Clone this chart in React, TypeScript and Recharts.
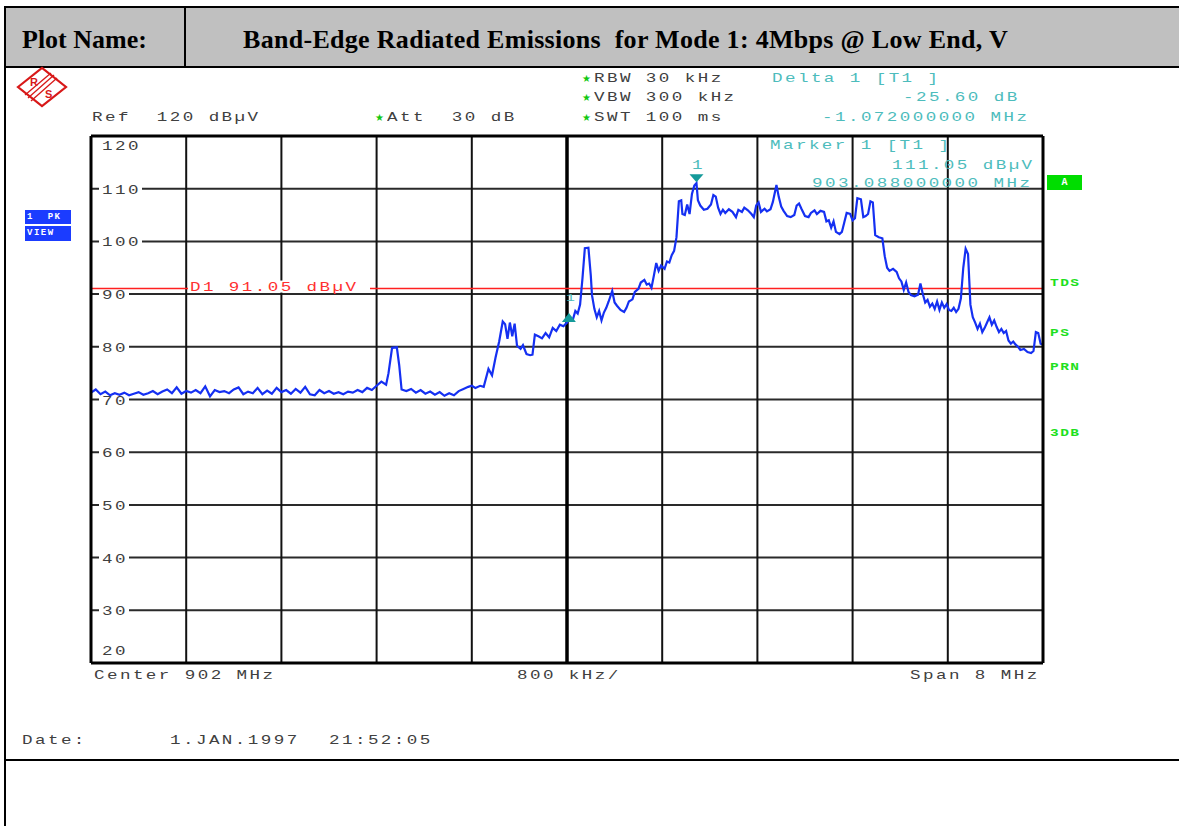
import React from 'react';
import { LineChart, Line, XAxis, YAxis, ReferenceLine, ReferenceDot } from 'recharts';

// ---------- data ----------
const X_DOMAIN: [number, number] = [898, 906];
const Y_DOMAIN: [number, number] = [20, 120];
const xGridMHz = [898.8, 899.6, 900.4, 901.2, 902.8, 903.6, 904.4, 905.2];
const xCenterMHz = 902;
const yGridDbuv = [30, 40, 50, 60, 70, 80, 90, 100, 110];
const displayLineDbuv = 91.05;
const marker1 = { f: 903.088, v: 111.05 };
const delta1 = { f: 902.016, v: 85.45 };

// [frequency MHz, level dBµV]
const tracePoints: [number, number][] = [
  [898.00, 71.3], [898.04, 71.9], [898.08, 71.0], [898.12, 71.5], [898.16, 70.8], [898.20, 71.2],
  [898.24, 70.9], [898.28, 71.3], [898.32, 70.8], [898.36, 71.1], [898.40, 71.4], [898.44, 70.9],
  [898.48, 71.2], [898.52, 71.6], [898.56, 71.0], [898.60, 71.5], [898.64, 71.9], [898.68, 71.2],
  [898.72, 72.3], [898.76, 71.1], [898.80, 71.6], [898.84, 71.3], [898.88, 71.8], [898.92, 71.2],
  [898.96, 72.5], [899.00, 70.6], [899.04, 71.8], [899.08, 71.4], [899.12, 71.6], [899.16, 71.2],
  [899.20, 71.9], [899.24, 72.3], [899.28, 71.0], [899.32, 71.5], [899.36, 71.2], [899.40, 72.2],
  [899.44, 71.0], [899.48, 71.7], [899.52, 71.1], [899.56, 72.2], [899.60, 71.4], [899.64, 71.8],
  [899.68, 71.1], [899.72, 72.0], [899.76, 71.3], [899.80, 72.4], [899.84, 71.0], [899.88, 70.8],
  [899.92, 71.8], [899.96, 71.2], [900.00, 71.6], [900.04, 71.1], [900.08, 71.4], [900.12, 71.0],
  [900.16, 71.5], [900.20, 71.3], [900.24, 71.8], [900.28, 71.4], [900.32, 72.2], [900.36, 71.8],
  [900.40, 72.6], [900.44, 73.4], [900.48, 72.8], [900.50, 75.0], [900.53, 79.8], [900.57, 79.9],
  [900.59, 76.5], [900.61, 71.9], [900.65, 71.6], [900.69, 72.0], [900.73, 71.3], [900.77, 71.8],
  [900.81, 71.1], [900.85, 71.5], [900.89, 70.9], [900.93, 71.4], [900.97, 70.7], [901.01, 71.2],
  [901.05, 70.8], [901.09, 71.6], [901.13, 72.0], [901.17, 72.4], [901.20, 72.6], [901.23, 72.2],
  [901.27, 72.6], [901.30, 72.4], [901.34, 75.8], [901.37, 74.6], [901.40, 78.0], [901.43, 81.0],
  [901.46, 84.8], [901.48, 84.3], [901.50, 81.5], [901.52, 84.6], [901.54, 82.0], [901.56, 84.4],
  [901.58, 80.2], [901.61, 79.6], [901.63, 80.3], [901.66, 78.6], [901.69, 78.4], [901.71, 78.5],
  [901.73, 82.3], [901.76, 82.0], [901.79, 81.6], [901.82, 82.6], [901.85, 81.8], [901.88, 83.6],
  [901.91, 83.0], [901.94, 84.2], [901.97, 83.9], [902.00, 84.6], [902.02, 85.45], [902.05, 85.2],
  [902.07, 86.8], [902.09, 86.3], [902.11, 88.0], [902.13, 93.0], [902.15, 98.7], [902.18, 98.8],
  [902.20, 93.5], [902.21, 89.8], [902.23, 87.2], [902.25, 85.6], [902.27, 86.8], [902.29, 85.0],
  [902.31, 86.5], [902.33, 87.4], [902.35, 88.6], [902.38, 90.6], [902.40, 88.4], [902.42, 87.8],
  [902.45, 87.0], [902.48, 86.6], [902.50, 87.4], [902.52, 88.6], [902.55, 89.0], [902.57, 90.4],
  [902.60, 91.0], [902.62, 92.2], [902.65, 92.7], [902.67, 91.8], [902.69, 92.0], [902.71, 91.2],
  [902.73, 93.5], [902.75, 95.9], [902.77, 94.4], [902.79, 95.4], [902.82, 94.8], [902.84, 96.2],
  [902.86, 96.0], [902.88, 97.4], [902.90, 98.2], [902.92, 100.8], [902.94, 107.6], [902.96, 107.8],
  [902.97, 105.2], [902.99, 105.0], [903.01, 107.0], [903.03, 105.2], [903.05, 109.0], [903.07, 110.6],
  [903.088, 111.05], [903.10, 107.8], [903.12, 106.8], [903.15, 106.0], [903.18, 106.2], [903.21, 107.0],
  [903.23, 108.8], [903.25, 108.5], [903.27, 106.4], [903.29, 105.2], [903.31, 106.0], [903.33, 105.4],
  [903.36, 106.1], [903.39, 105.6], [903.42, 104.6], [903.44, 106.0], [903.47, 105.6], [903.49, 106.4],
  [903.52, 105.9], [903.55, 105.2], [903.57, 104.6], [903.59, 106.8], [903.61, 107.4], [903.63, 105.6],
  [903.66, 106.2], [903.68, 105.7], [903.71, 106.1], [903.73, 107.5], [903.76, 110.7], [903.78, 108.4],
  [903.80, 106.6], [903.82, 105.8], [903.85, 104.8], [903.88, 104.6], [903.91, 105.0], [903.93, 106.8],
  [903.95, 107.2], [903.97, 106.2], [904.00, 104.8], [904.03, 104.6], [904.05, 105.4], [904.08, 105.9],
  [904.10, 105.2], [904.13, 105.8], [904.16, 105.6], [904.18, 103.8], [904.20, 104.0], [904.22, 102.6],
  [904.24, 103.8], [904.26, 101.8], [904.29, 101.4], [904.31, 101.8], [904.33, 103.6], [904.35, 105.4],
  [904.38, 105.2], [904.40, 104.0], [904.42, 104.4], [904.44, 108.2], [904.47, 108.0], [904.49, 104.6],
  [904.51, 104.8], [904.53, 105.2], [904.55, 107.6], [904.57, 107.4], [904.59, 101.2], [904.62, 100.8],
  [904.65, 100.6], [904.67, 97.2], [904.69, 95.0], [904.71, 94.4], [904.74, 94.8], [904.77, 94.2],
  [904.79, 93.0], [904.81, 92.4], [904.83, 90.8], [904.85, 92.2], [904.87, 90.4], [904.89, 89.8],
  [904.92, 89.6], [904.95, 89.9], [904.97, 92.0], [904.99, 90.0], [905.01, 88.4], [905.03, 88.9],
  [905.05, 87.6], [905.07, 88.2], [905.09, 87.2], [905.11, 88.6], [905.13, 87.0], [905.15, 88.4],
  [905.17, 87.4], [905.19, 88.1], [905.21, 87.0], [905.23, 86.8], [905.25, 87.4], [905.27, 86.6],
  [905.29, 87.2], [905.31, 89.2], [905.33, 95.0], [905.35, 98.6], [905.37, 97.6], [905.39, 88.0],
  [905.41, 85.6], [905.43, 84.6], [905.45, 83.4], [905.47, 84.4], [905.49, 82.8], [905.51, 83.6],
  [905.53, 84.6], [905.55, 85.6], [905.57, 84.2], [905.59, 85.0], [905.61, 83.8], [905.63, 82.8],
  [905.65, 83.4], [905.67, 82.6], [905.69, 83.0], [905.71, 81.2], [905.73, 80.6], [905.75, 81.0],
  [905.77, 80.4], [905.79, 80.0], [905.81, 79.4], [905.84, 79.6], [905.87, 79.0], [905.90, 78.8],
  [905.92, 79.2], [905.94, 82.8], [905.96, 82.6], [905.98, 80.6], [906.00, 80.4],
];

const traceData = tracePoints.map(([f, v]) => ({ f, v }));

// ---------- styles ----------
const MONO = '"Liberation Mono", "DejaVu Sans Mono", monospace';
const GREY = '#404040';
const CYAN = '#4dbcbc';
const TEAL = '#149a9a';
const GREEN = '#1ee01e';
const TRACE = '#1530f2';
const SX = 1.35;
const LS = 1.8;

const T = ({ x, y, children, color = GREY, size = 13, ls = LS, sx = SX, weight = 400, family = MONO }: any) => (
  <div
    style={{
      position: 'absolute', left: x, top: y - size / 2 - 1, fontFamily: family, fontSize: size,
      lineHeight: `${size}px`, letterSpacing: ls, color, whiteSpace: 'pre', fontWeight: weight,
      transform: `scaleX(${sx})`, transformOrigin: 'left center',
    }}
  >
    {children}
  </div>
);

const Star = ({ x, y }: any) => (
  <div style={{ position: 'absolute', left: x, top: y - 6, fontSize: 10, lineHeight: '12px', color: '#12c812', fontFamily: '"DejaVu Sans"' }}>★</div>
);

const Box = ({ l, t, w, h, bg }: any) => (
  <div style={{ position: 'absolute', left: l, top: t, width: w, height: h, background: bg }} />
);

const svgMono = (x: number, y: number, text: string, fill: string) => (
  <text
    transform={`translate(${x},${y}) scale(${SX},1)`}
    fontFamily={MONO}
    fontSize={13}
    fill={fill}
    style={{ letterSpacing: `${LS}px` }}
  >
    {text}
  </text>
);

const yLabel = (text: string) => (props: any) => {
  const vb = props.viewBox || {};
  const w = text.length * 13 - 4 + 8;
  return (
    <g>
      <rect x={vb.x + 8} y={vb.y - 7} width={w} height={14} fill="#ffffff" />
      {svgMono(vb.x + 11, vb.y + 5, text, GREY)}
    </g>
  );
};

const cornerLabel = (text: string, dy: number) => (props: any) => {
  const vb = props.viewBox || {};
  return svgMono(vb.x + 11, vb.y + dy, text, GREY);
};

const displayLineLabel = (props: any) => {
  const vb = props.viewBox || {};
  return (
    <g>
      <rect x={vb.x + 97} y={vb.y - 8} width={182} height={12} fill="#ffffff" />
      {svgMono(vb.x + 99, vb.y + 2, 'D1 91.05 dBµV', '#ff3030')}
    </g>
  );
};

const downTriangle = (p: any) => (
  <polygon points={`${p.cx - 7},${p.cy - 9} ${p.cx + 7},${p.cy - 9} ${p.cx},${p.cy - 1}`} fill={TEAL} />
);
const upTriangle = (p: any) => (
  <polygon points={`${p.cx},${p.cy - 5} ${p.cx - 7},${p.cy + 4} ${p.cx + 7},${p.cy + 4}`} fill={TEAL} />
);

export default function App() {
  return (
    <div style={{ position: 'absolute', left: 0, top: 0, width: 1179, height: 826, background: '#fff', overflow: 'hidden' }}>
      {/* report table frame */}
      <Box l={5} t={7} w={1174} h={60} bg="#c0c0c0" />
      <Box l={4} t={6} w={1175} h={2} bg="#000" />
      <Box l={4} t={6} w={2} h={820} bg="#000" />
      <Box l={4} t={66} w={1175} h={2} bg="#000" />
      <Box l={184} t={6} w={2} h={61} bg="#000" />
      <Box l={4} t={759} w={1175} h={2} bg="#000" />
      <div style={{ position: 'absolute', left: 22, top: 27, fontFamily: '"Liberation Serif", serif', fontWeight: 700, fontSize: 26, lineHeight: '26px', whiteSpace: 'pre' }}>
        Plot Name:
      </div>
      <div style={{ position: 'absolute', left: 243, top: 27, fontFamily: '"Liberation Serif", serif', fontWeight: 700, fontSize: 26, lineHeight: '26px', whiteSpace: 'pre', letterSpacing: 0.3 }}>
        Band-Edge Radiated Emissions  for Mode 1: 4Mbps @ Low End, V
      </div>

      {/* R&S logo */}
      <svg style={{ position: 'absolute', left: 14, top: 64 }} width={58} height={46}>
        <polygon points="4,23 28,4 52,23 28,42" fill="none" stroke="#d81818" strokeWidth={2.2} />
        <line x1={40} y1={11} x2={14} y2={34} stroke="#d81818" strokeWidth={1.3} />
        <line x1={43} y1={14} x2={17} y2={37} stroke="#d81818" strokeWidth={1.3} />
        <line x1={37} y1={9} x2={11} y2={31} stroke="#d81818" strokeWidth={1.3} />
        <text x={16} y={22} fontSize={11} fontWeight={700} fill="#d81818" fontFamily="Liberation Sans">R</text>
        <text x={31} y={34} fontSize={11} fontWeight={700} fill="#d81818" fontFamily="Liberation Sans">S</text>
      </svg>

      {/* chart */}
      <div style={{ position: 'absolute', left: 0, top: 0 }}>
        <LineChart width={1179} height={700} data={traceData} margin={{ top: 136, left: 91, right: 136, bottom: 37 }}>
          <XAxis type="number" dataKey="f" domain={X_DOMAIN} allowDataOverflow hide />
          <YAxis type="number" domain={Y_DOMAIN} allowDataOverflow hide />
          {yGridDbuv.map((v) => (
            <ReferenceLine key={`h${v}`} y={v} stroke="#2a2a2a" strokeWidth={2} label={yLabel(String(v))} />
          ))}
          {xGridMHz.map((f) => (
            <ReferenceLine key={`v${f}`} x={f} stroke="#111" strokeWidth={2} />
          ))}
          <ReferenceLine x={xCenterMHz} stroke="#000" strokeWidth={3.5} />
          <ReferenceLine y={displayLineDbuv} stroke="#ff2020" strokeWidth={1.6} label={displayLineLabel} />
          <Line type="linear" dataKey="v" stroke={TRACE} strokeWidth={2.2} dot={false} isAnimationActive={false} />
          <ReferenceDot x={marker1.f} y={marker1.v} shape={downTriangle} />
          <ReferenceDot x={delta1.f} y={delta1.v} shape={upTriangle} />
          <ReferenceLine y={120} stroke="#000" strokeWidth={3} label={cornerLabel('120', 14)} />
          <ReferenceLine y={20} stroke="#000" strokeWidth={3} label={cornerLabel('20', -8)} />
          <ReferenceLine x={898} stroke="#000" strokeWidth={3} />
          <ReferenceLine x={906} stroke="#000" strokeWidth={3} />
        </LineChart>
      </div>

      {/* analyzer header annotations */}
      <T x={92} y={118}>Ref  120 dBµV</T>
      <Star x={375} y={118} />
      <T x={387} y={118}>Att  30 dB</T>
      <Star x={582} y={79} />
      <T x={594} y={79}>RBW 30 kHz</T>
      <Star x={582} y={98} />
      <T x={594} y={98}>VBW 300 kHz</T>
      <Star x={582} y={118} />
      <T x={594} y={118}>SWT 100 ms</T>
      <T x={772} y={79} color={CYAN}>Delta 1 [T1 ]</T>
      <T x={903} y={98} color={CYAN}>-25.60 dB</T>
      <T x={822} y={118} color={CYAN}>-1.072000000 MHz</T>
      <T x={770} y={146} color={CYAN}>Marker 1 [T1 ]</T>
      <T x={892} y={166} color={CYAN}>111.05 dBµV</T>
      <T x={812} y={184} color={CYAN}>903.088000000 MHz</T>
      <T x={692} y={166} color={CYAN}>1</T>
      <T x={566} y={299} color={CYAN} size={11}>1</T>

      {/* side indicators */}
      <div style={{ position: 'absolute', left: 25, top: 210, width: 46, height: 14, background: '#1b3cff', color: '#fff', fontFamily: MONO, fontWeight: 700, fontSize: 9, lineHeight: '14px', whiteSpace: 'pre', paddingLeft: 2, boxSizing: 'border-box', letterSpacing: 1.5 }}>1  PK</div>
      <div style={{ position: 'absolute', left: 25, top: 226, width: 46, height: 15, background: '#1b3cff', color: '#fff', fontFamily: MONO, fontWeight: 700, fontSize: 9, lineHeight: '15px', whiteSpace: 'pre', paddingLeft: 2, boxSizing: 'border-box', letterSpacing: 1.5 }}>VIEW</div>
      <div style={{ position: 'absolute', left: 1047, top: 175, width: 35, height: 15, background: '#00dd00', color: '#fff', fontFamily: MONO, fontWeight: 700, fontSize: 10, lineHeight: '15px', textAlign: 'center' }}>A</div>
      <T x={1050} y={285} color={GREEN} size={10} ls={1} sx={1.45} weight={700}>TDS</T>
      <T x={1050} y={335} color={GREEN} size={10} ls={1} sx={1.45} weight={700}>PS</T>
      <T x={1050} y={369} color={GREEN} size={10} ls={1} sx={1.45} weight={700}>PRN</T>
      <T x={1050} y={435} color={GREEN} size={10} ls={1} sx={1.45} weight={700}>3DB</T>

      {/* footer annotations */}
      <T x={94} y={676}>Center 902 MHz</T>
      <T x={517} y={676}>800 kHz/</T>
      <T x={910} y={676}>Span 8 MHz</T>
      <T x={22} y={741}>Date:</T>
      <T x={170} y={741}>1.JAN.1997</T>
      <T x={329} y={741}>21:52:05</T>
    </div>
  );
}
